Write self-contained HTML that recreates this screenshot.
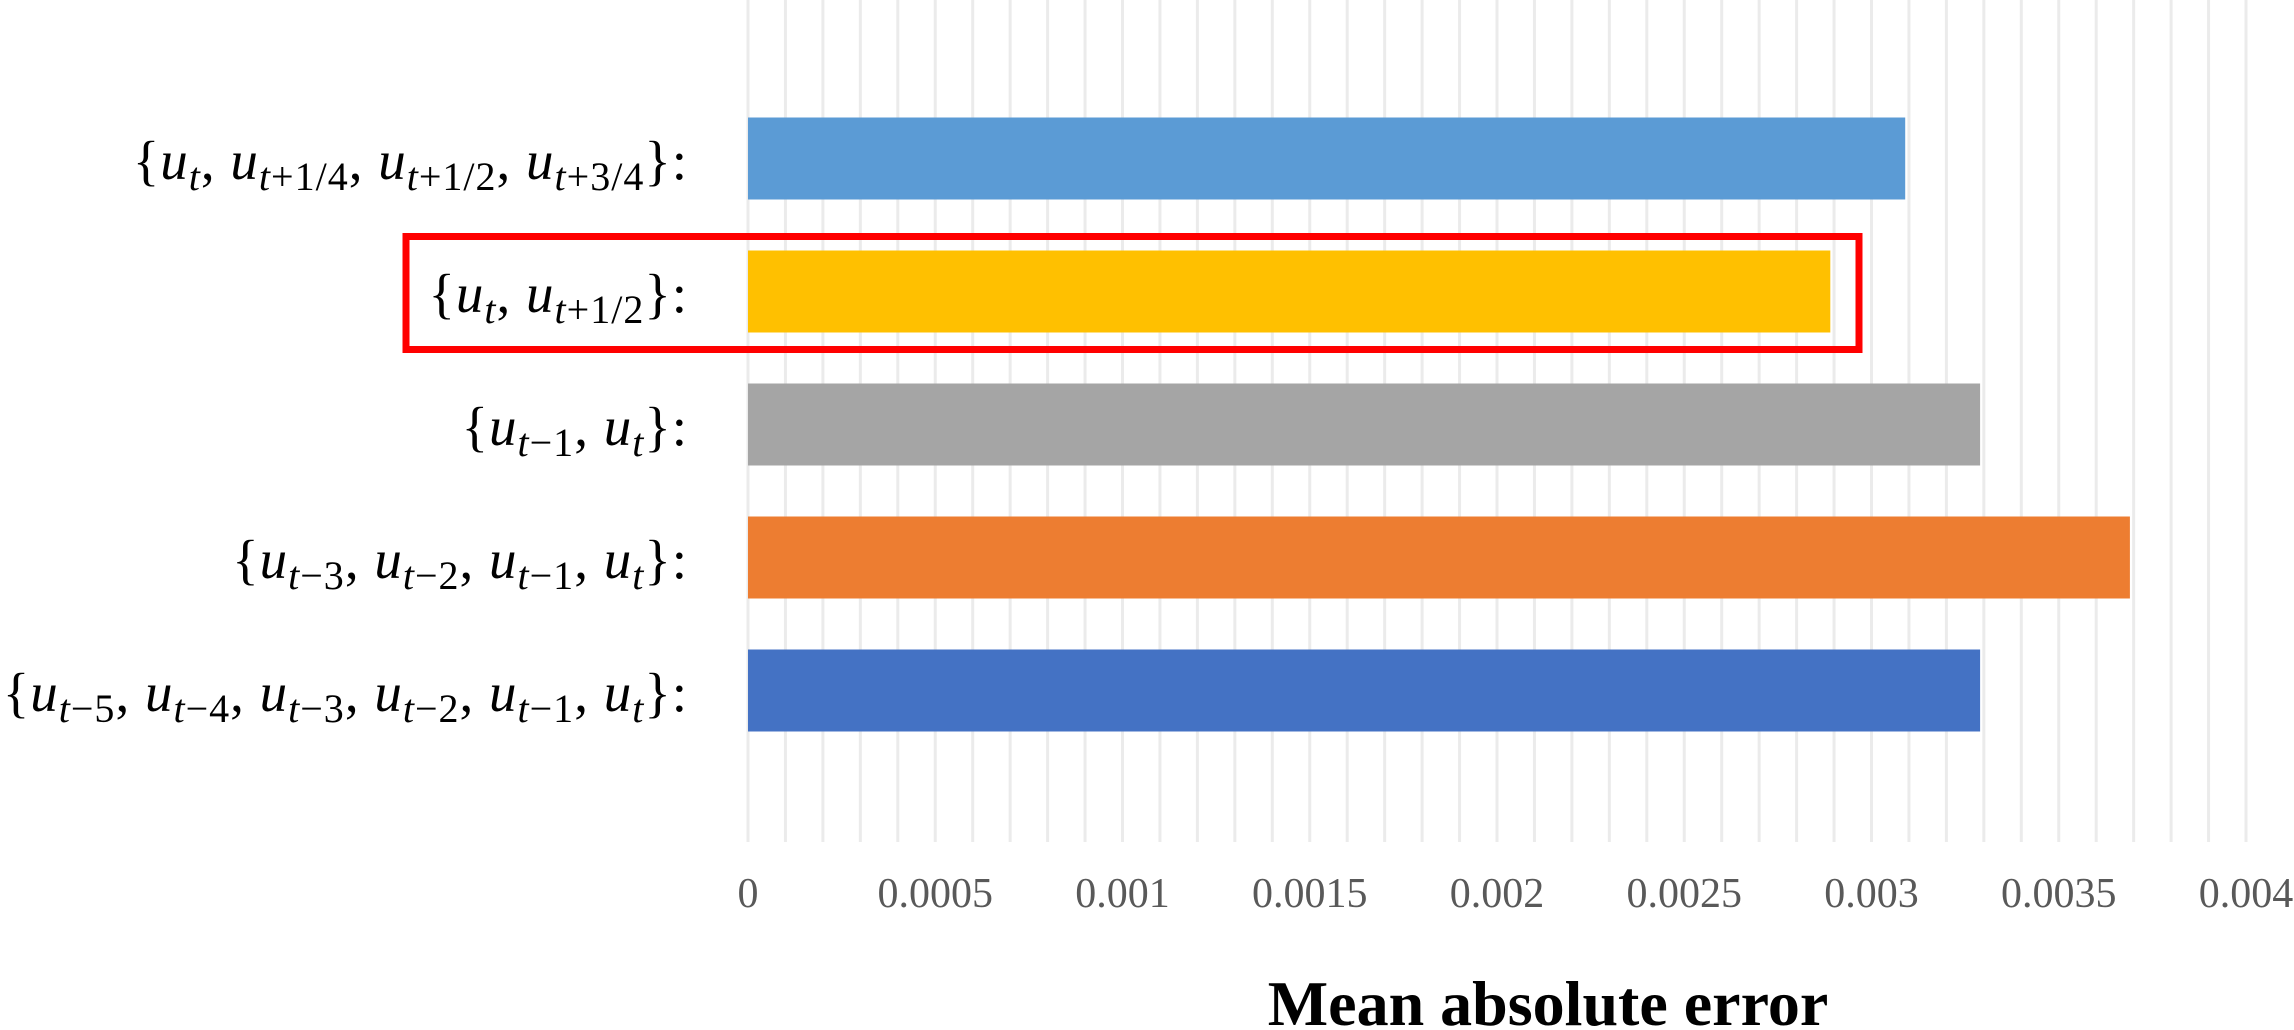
<!DOCTYPE html>
<html><head><meta charset="utf-8"><style>
body{margin:0;width:2294px;height:1030px;background:#fff;overflow:hidden;position:relative;font-family:"Liberation Serif",serif}
.lab{position:absolute;right:1606px;font-size:55px;color:#000;white-space:nowrap;line-height:1;letter-spacing:1px}
.lab i{font-style:italic}
.lab sub{font-size:40px;vertical-align:-11px;line-height:0}
</style></head><body>
<svg id="chart" width="2294" height="1030" style="position:absolute;left:0;top:0" xmlns="http://www.w3.org/2000/svg"></svg>
<div id="labels"></div>
<script>
const categories=["{u_t, u_t+1/4, u_t+1/2, u_t+3/4}","{u_t, u_t+1/2}","{u_t-1, u_t}","{u_t-3, u_t-2, u_t-1, u_t}","{u_t-5, u_t-4, u_t-3, u_t-2, u_t-1, u_t}"];
const labelHtml=[
 '{<i>u</i><sub><i>t</i></sub>, <i>u</i><sub><i>t</i>+1/4</sub>, <i>u</i><sub><i>t</i>+1/2</sub>, <i>u</i><sub><i>t</i>+3/4</sub>}:',
 '{<i>u</i><sub><i>t</i></sub>, <i>u</i><sub><i>t</i>+1/2</sub>}:',
 '{<i>u</i><sub><i>t</i>−1</sub>, <i>u</i><sub><i>t</i></sub>}:',
 '{<i>u</i><sub><i>t</i>−3</sub>, <i>u</i><sub><i>t</i>−2</sub>, <i>u</i><sub><i>t</i>−1</sub>, <i>u</i><sub><i>t</i></sub>}:',
 '{<i>u</i><sub><i>t</i>−5</sub>, <i>u</i><sub><i>t</i>−4</sub>, <i>u</i><sub><i>t</i>−3</sub>, <i>u</i><sub><i>t</i>−2</sub>, <i>u</i><sub><i>t</i>−1</sub>, <i>u</i><sub><i>t</i></sub>}:'];
const values=[0.00309,0.00289,0.00329,0.00369,0.00329];
const colors=["#5B9BD5","#FFC000","#A5A5A5","#ED7D31","#4472C4"];
const tickValues=[0,0.0005,0.001,0.0015,0.002,0.0025,0.003,0.0035,0.004];
const tickLabels=["0","0.0005","0.001","0.0015","0.002","0.0025","0.003","0.0035","0.004"];
const highlighted=1;

const NS="http://www.w3.org/2000/svg";
const svg=document.getElementById('chart');
const x0=748,x1=2246,xmax=0.004;
const xs=v=>x0+(v/xmax)*(x1-x0);
const bandTop=92,band=133,barH=82;
const yc=i=>bandTop+band*i+band/2;
function mk(t,a){const e=document.createElementNS(NS,t);for(const k in a)e.setAttribute(k,a[k]);svg.appendChild(e);return e;}
for(let g=0;g<=40;g++){
 const l=mk('line',{x1:xs(g*0.0001),x2:xs(g*0.0001),y1:0,y2:842,stroke:'#ebebeb','stroke-width':3});
 
 
}
values.forEach((v,i)=>{
 const r=mk('rect',{x:x0,y:yc(i)-barH/2,width:xs(v)-x0,height:barH,fill:colors[i]});
 
 
});
tickValues.forEach((v,i)=>{
 const t=mk('text',{x:xs(v),y:907,'text-anchor':'middle','font-family':'Liberation Serif, serif','font-size':42,fill:'#595959'});
 t.textContent=tickLabels[i];
 
 
});
const hb=mk('rect',{x:406,y:yc(highlighted)-55,width:1453,height:113,fill:'none',stroke:'#FF0000','stroke-width':7});


const tt=mk('text',{x:1548,y:1025,'text-anchor':'middle','font-family':'Liberation Serif, serif','font-size':64,'font-weight':'bold',fill:'#000'});
tt.textContent='Mean absolute error';


const lc=document.getElementById('labels');
categories.forEach((c,i)=>{
 const d=document.createElement('div');
 d.className='lab';
 d.style.top=(yc(i)-26)+'px';
 d.innerHTML=labelHtml[i];
 
 
 lc.appendChild(d);
});
</script>
</body></html>
